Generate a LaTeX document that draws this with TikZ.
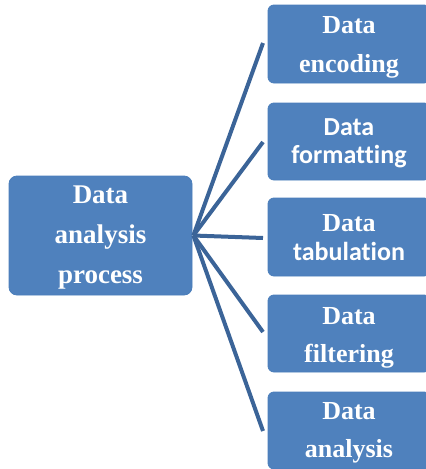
\documentclass[tikz,border=0pt]{standalone}
\usepackage{fontspec}
\newfontfamily\serifb{Liberation Serif}
\newfontfamily\sansb{Carlito}[Ligatures=NoCommon]
\definecolor{boxblue}{HTML}{4F81BD}
\definecolor{boxedge}{HTML}{4A7EBB}
\definecolor{linkblue}{HTML}{3B6498}
% invisible strut that sets the height of a first line
\newcommand{\toprule}[1]{\rule{0pt}{#1}}
\begin{document}
\begin{tikzpicture}[x=1pt,y=-1pt,
  box/.style={draw=boxedge,line width=0.8pt,fill=boxblue,text=white,
    align=center,inner sep=0pt,font=\bfseries},
  stepbox/.style={box,rounded corners=6pt,minimum width=162pt},
  link/.style={draw=linkblue,line width=4pt,line cap=butt}]
\useasboundingbox (0,0) rectangle (426,469);
\clip (0,0) rectangle (426,469);

% central process box
\node[box,rounded corners=8pt,minimum width=183pt,minimum height=119pt,
  font=\serifb\bfseries\fontsize{27}{40}\selectfont]
  (proc) at (100.5,235.5) {\toprule{21pt}Data\\analysis\\process};

% the five steps
\node[stepbox,minimum height=78pt,font=\serifb\bfseries\fontsize{26}{39}\selectfont]
  (enc) at (349,44) {\toprule{23pt}Data\\encoding};
\node[stepbox,minimum height=77pt,font=\sansb\bfseries\fontsize{26}{28}\selectfont]
  (fmt) at (349,141.5) {\toprule{20.5pt}Data\\formatting};
\node[stepbox,minimum height=78pt,font=\bfseries\fontsize{26}{29}\selectfont]
  (tab) at (349,237) {\toprule{19pt}{\serifb Data}\\{\sansb tabulation}};
\node[stepbox,minimum height=77pt,font=\serifb\bfseries\fontsize{26}{38}\selectfont]
  (fil) at (349,333.5) {\toprule{26.5pt}Data\\filtering};
\node[stepbox,minimum height=77pt,font=\serifb\bfseries\fontsize{26}{38}\selectfont]
  (ana) at (349,430.5) {\toprule{22.5pt}Data\\analysis};

% connectors fanning out from the process box
\coordinate (hub) at ([xshift=1pt]proc.east);
\coordinate (e1) at (263,43);
\coordinate (e2) at (263,142);
\coordinate (e3) at (263,238);
\coordinate (e4) at (263,332);
\coordinate (e5) at (263,431);
\foreach \e in {e1,e2,e3,e4,e5}
  \draw[link] (hub) -- (\e);
\end{tikzpicture}
\end{document}
